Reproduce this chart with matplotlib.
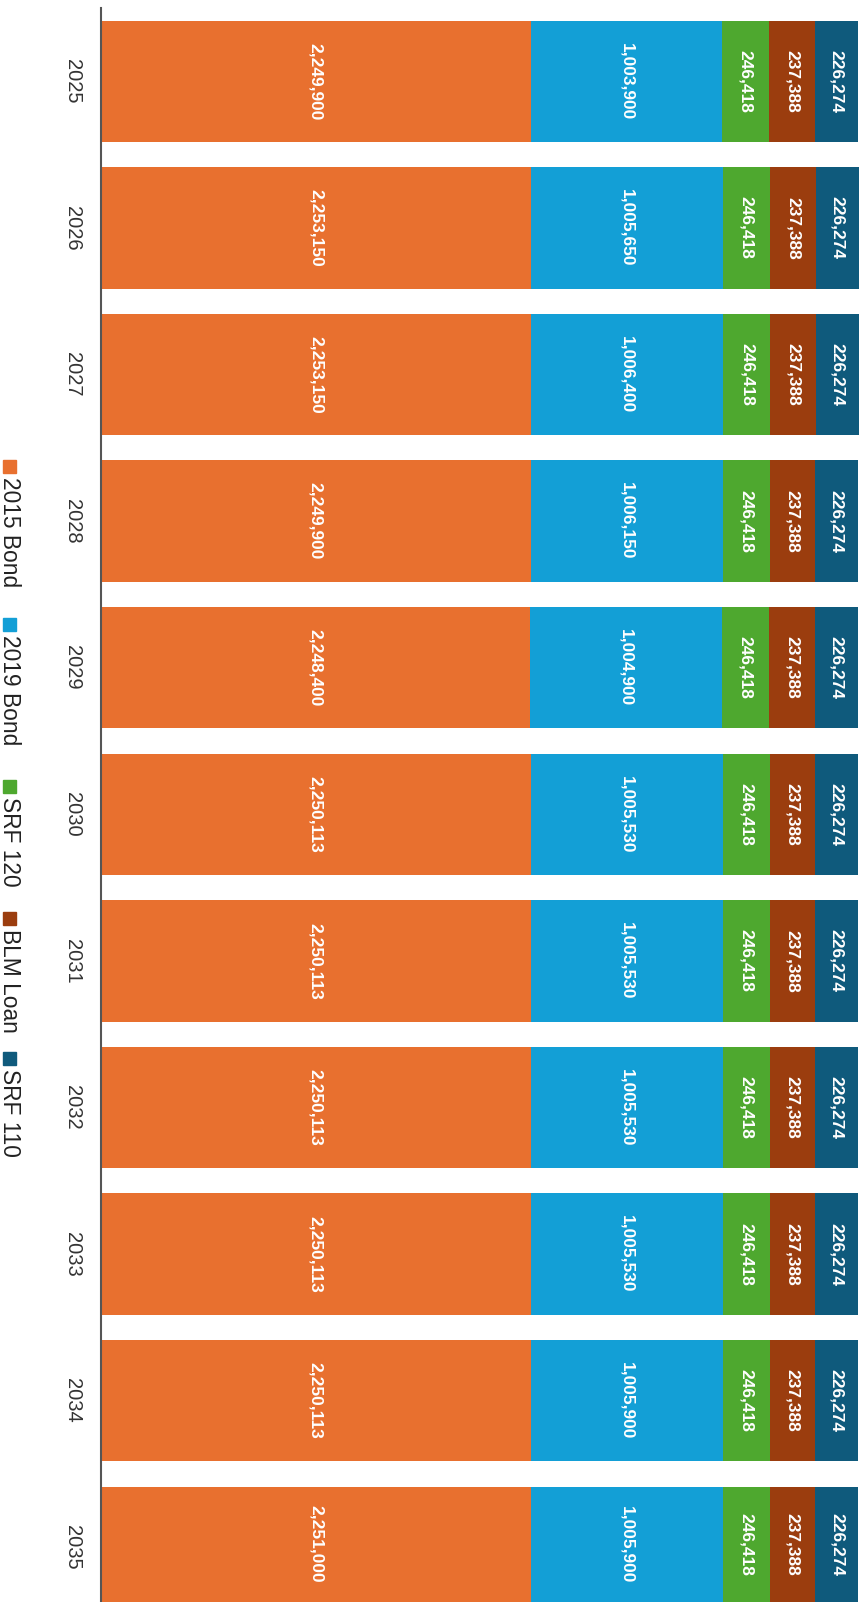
import matplotlib
matplotlib.use('Agg')
import matplotlib.pyplot as plt
from matplotlib.patches import Rectangle

plt.rcParams['font.family'] = ['Liberation Sans', 'DejaVu Sans']

years = ['2025', '2026', '2027', '2028', '2029', '2030', '2031', '2032', '2033', '2034', '2035']
bond_2015 = [2249900, 2253150, 2253150, 2249900, 2248400, 2250113, 2250113, 2250113, 2250113, 2250113, 2251000]
bond_2019 = [1003900, 1005650, 1006400, 1006150, 1004900, 1005530, 1005530, 1005530, 1005530, 1005900, 1005900]
srf_120 = [246418, 246418, 246418, 246418, 246418, 246418, 246418, 246418, 246418, 246418, 246418]
blm_loan = [237388, 237388, 237388, 237388, 237388, 237388, 237388, 237388, 237388, 237388, 237388]
srf_110 = [226274, 226274, 226274, 226274, 226274, 226274, 226274, 226274, 226274, 226274, 226274]

series = [('2015 Bond', bond_2015, '#E8702F'),
          ('2019 Bond', bond_2019, '#139FD6'),
          ('SRF 120', srf_120, '#4EA82F'),
          ('BLM Loan', blm_loan, '#9B3D0E'),
          ('SRF 110', srf_110, '#0F5A7C')]

W, H = 866, 1602
fig = plt.figure(figsize=(W / 100, H / 100), dpi=100)
ax = fig.add_axes([101 / W, 0, 758 / W, 1594 / H])

pos = list(range(len(years)))
left = [0] * len(years)
for name, vals, col in series:
    bars = ax.barh(pos, vals, left=left, height=0.829, color=col, edgecolor='none')
    ax.bar_label(bars, labels=['{:,}'.format(v) for v in vals], label_type='center',
                 rotation=-90, color='white', fontweight='bold', fontsize=12.5)
    left = [a + b for a, b in zip(left, vals)]

ax.set_xlim(0, max(left))
ax.set_ylim(10.373, -0.5)
ax.set_yticks(pos)
ax.set_yticklabels(years, rotation=-90, va='center', fontsize=14.5, color='#333333')
ax.tick_params(axis='y', length=0, pad=13.5)
ax.set_xticks([])
for s in ['top', 'right', 'bottom']:
    ax.spines[s].set_visible(False)
ax.spines['left'].set_color('#555555')
ax.spines['left'].set_linewidth(1.5)

# legend, drawn by hand because it is rotated
legend_y = [460, 618, 780, 912, 1052]
for (name, vals, col), y in zip(series, legend_y):
    fig.patches.append(Rectangle((2.5 / W, 1 - (y + 13) / H), 13 / W, 13 / H,
                                 transform=fig.transFigure, color=col))
    fig.text(9.5 / W, 1 - (y + 17) / H, name, rotation=-90, ha='center', va='top',
             fontsize=16.4, color='#222222')

plt.savefig('out.png', dpi=100)
